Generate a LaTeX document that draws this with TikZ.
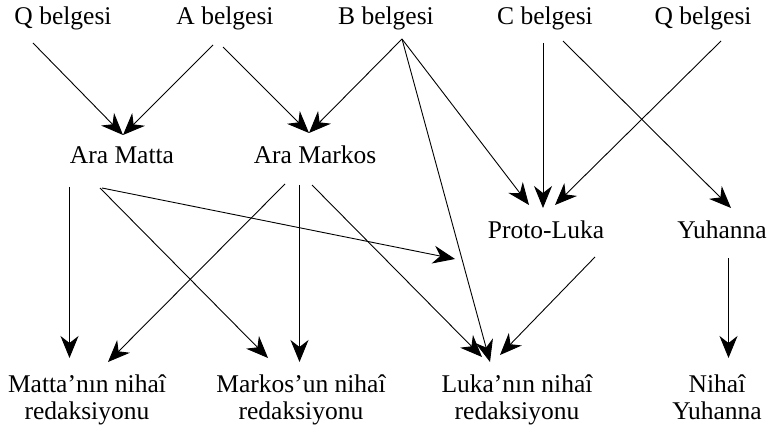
\documentclass[tikz,border=0pt]{standalone}
\usepackage{fontspec}
\setmainfont{Liberation Serif}
\usetikzlibrary{arrows.meta}
\begin{document}
\begin{tikzpicture}[x=1pt,y=-1pt,
  lbl/.style={inner sep=0pt,anchor=base,font=\fontsize{25.5}{27}\selectfont,align=center},
  arr/.style={draw=black,line width=0.9pt,-{Stealth[length=22pt,width=18pt,inset=7pt]}}]
\useasboundingbox (0,0) rectangle (770,430);
% top row
\node[lbl] (QL) at (63,25) {Q belgesi};
\node[lbl] (AB) at (225,25) {A belgesi};
\node[lbl] (BB) at (386,25) {B belgesi};
\node[lbl] (CB) at (545,25) {C belgesi};
\node[lbl] (QR) at (703,25) {Q belgesi};
% middle rows
\node[lbl] (AMt) at (122,164) {Ara Matta};
\node[lbl] (AMk) at (315,164) {Ara Markos};
\node[lbl] (PL) at (546,239) {Proto-Luka};
\node[lbl] (YU) at (722,239) {Yuhanna};
% bottom row (base = second line)
\node[lbl] (MF) at (87,419) {Matta’nın nihaî\\redaksiyonu};
\node[lbl] (MkF) at (301,419) {Markos’un nihaî\\redaksiyonu};
\node[lbl] (LF) at (517,419) {Luka’nın nihaî\\redaksiyonu};
\node[lbl] (NY) at (717,419) {Nihaî\\Yuhanna};
\coordinate (free) at (455,259);
% connectors
\draw[arr] ([shift={(-30,18)}]QL.base) -- ([shift={(1,-29)}]AMt.base);
\draw[arr] ([shift={(-12,20)}]AB.base) -- ([shift={(1,-29)}]AMt.base);
\draw[arr] ([shift={(-2,22)}]AB.base) -- ([shift={(-6,-31)}]AMk.base);
\draw[arr] ([shift={(16,14)}]BB.base) -- ([shift={(-6,-31)}]AMk.base);
\draw[arr] ([shift={(16,14)}]BB.base) -- ([shift={(-17,-34)}]PL.base);
\draw[arr] ([shift={(16,14)}]BB.base) -- ([shift={(-27,-57)}]LF.base);
\draw[arr] ([shift={(-2,18)}]CB.base) -- ([shift={(-3,-31)}]PL.base);
\draw[arr] ([shift={(18,16)}]CB.base) -- ([shift={(9,-31)}]YU.base);
\draw[arr] ([shift={(18,16)}]QR.base) -- ([shift={(9,-34)}]PL.base);
\draw[arr] ([shift={(-52.5,23)}]AMt.base) -- ([shift={(-17.5,-61)}]MF.base);
\draw[arr] ([shift={(-22,24)}]AMt.base) -- ([shift={(-33,-61)}]MkF.base);
\draw[arr] ([shift={(-20,24)}]AMt.base) -- (free);
\draw[arr] ([shift={(-30,20)}]AMk.base) -- ([shift={(21,-57)}]MF.base);
\draw[arr] ([shift={(-15.5,21)}]AMk.base) -- ([shift={(-1.5,-57)}]MkF.base);
\draw[arr] ([shift={(-3,21)}]AMk.base) -- ([shift={(-35,-62)}]LF.base);
\draw[arr] ([shift={(49,18)}]PL.base) -- ([shift={(-17,-64)}]LF.base);
\draw[arr] ([shift={(6.5,19)}]YU.base) -- ([shift={(11.5,-61)}]NY.base);
\end{tikzpicture}
\end{document}
